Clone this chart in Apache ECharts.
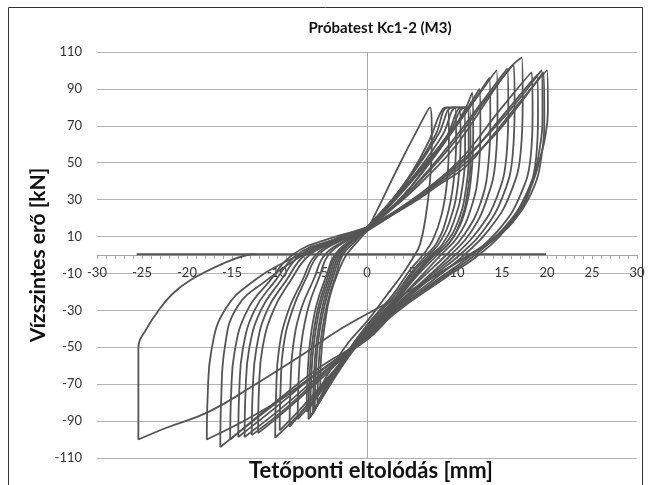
<!DOCTYPE html>
<html>
<head>
<meta charset="utf-8">
<script src="https://cdn.jsdelivr.net/npm/echarts@6/dist/echarts.min.js"></script>
<style>html,body{margin:0;padding:0;background:#fff}#c{width:650px;height:485px}</style>
</head>
<body>
<div id="c"></div>
<script>
const titleText = 'Próbatest Kc1-2 (M3)';
const xTitle = 'Tetőponti eltolódás [mm]';
const yTitle = 'Vízszintes erő [kN]';
const xTicks = [-30, -25, -20, -15, -10, -5, 0, 5, 10, 15, 20, 25, 30];
const yTicks = [-110, -90, -70, -50, -30, -10, 10, 30, 50, 70, 90, 110];

const loopA = [[0,13],[1.5,28],[3.4,47],[5.4,66],[7.0,80],[7.2,62],[7.0,40],[6.5,20],[5.9,6],[5.3,0],[4,-10],[2,-23],[0,-36],[-2,-47],[-3.8,-60],[-5.2,-72],[-5.1,-55],[-4.7,-38],[-4.1,-22],[-3.1,-8],[-2.3,0],[-1.1,7],[0,13]];
const loopB = [[0,14],[2.5,28],[5,45],[7,63],[8.4,79],[9.0,80],[9.1,62],[8.9,40],[8.3,22],[7.3,8],[6.2,0],[4.8,-8],[2.8,-22],[0,-38],[-2.4,-54],[-4.3,-69],[-5.5,-80],[-5.4,-62],[-5.1,-45],[-4.4,-26],[-3.4,-10],[-2.7,0],[-1.4,7],[0,14]];
const loopB2 = [[0,15],[2.8,30],[5.4,47],[7.6,65],[9.0,80],[9.8,80],[9.9,61],[9.6,39],[8.9,21],[7.8,7],[6.6,0],[5,-9],[2.9,-23],[0,-39],[-2.7,-57],[-4.7,-73],[-5.8,-84],[-5.7,-64],[-5.4,-46],[-4.7,-27],[-3.7,-11],[-2.9,0],[-1.5,8],[0,15]];
const loopC = [[0,14],[3,31],[5.8,49],[8,66],[9.5,80],[10.3,80],[10.4,60],[10.1,38],[9.3,20],[8.1,7],[6.9,0],[5.2,-9],[3,-24],[0,-40],[-2.9,-59],[-4.9,-75],[-6.0,-86],[-5.9,-66],[-5.6,-47],[-4.9,-27],[-3.9,-11],[-3.1,0],[-1.6,8],[0,14]];
const loopC2 = [[0,15],[3,30],[6,48],[8.4,65],[10.0,80],[10.8,80],[10.9,59],[10.6,37],[9.7,19],[8.4,6],[7.1,0],[5.3,-10],[3,-25],[0,-41],[-3,-61],[-5.1,-78],[-6.3,-88],[-6.2,-67],[-5.9,-48],[-5.2,-28],[-4.1,-11],[-3.3,0],[-1.7,7],[0,15]];
const loopD = [[0,13],[3,29],[6,46],[8.8,64],[10.6,80],[11.2,80],[11.3,58],[11,36],[10.1,18],[8.7,6],[7.3,0],[5.5,-10],[3,-26],[0,-42],[-3,-62],[-5.3,-80],[-6.5,-89],[-6.4,-68],[-6.1,-48],[-5.4,-28],[-4.3,-11],[-3.5,0],[-1.8,7],[0,13]];
const loopE = [[0,14],[3,30],[6,47],[9,65],[11.0,80],[11.4,80],[11.5,57],[11.2,35],[10.3,17],[8.9,5],[7.5,0],[5.6,-10],[3,-26],[0,-41],[-3,-60],[-5.4,-76],[-6.7,-85],[-6.6,-65],[-6.3,-46],[-5.6,-27],[-4.5,-11],[-3.6,0],[-1.9,8],[0,14]];
const loopF = [[0,14],[3,30],[6,46],[9,64],[10.8,78],[11.7,88],[11.8,66],[11.6,44],[10.9,24],[9.5,9],[7.8,0],[5.8,-10],[3,-26],[0,-42],[-3.4,-62],[-6.1,-80],[-7.7,-89],[-7.6,-68],[-7.3,-48],[-6.5,-28],[-5.3,-12],[-4.3,0],[-2.2,8],[0,14]];
const loopG = [[0,15],[3,31],[6,47],[9,64],[11.1,79],[12.5,90],[12.6,68],[12.4,46],[11.6,26],[10.1,10],[8.2,0],[6.1,-11],[3,-27],[0,-42],[-3.9,-64],[-6.9,-83],[-8.6,-93],[-8.5,-70],[-8.2,-49],[-7.3,-29],[-5.9,-13],[-4.7,0],[-2.4,8],[0,15]];
const loopH = [[0,14],[4,32],[7,51],[9.5,68],[11.8,83],[13.6,96],[13.7,72],[13.5,50],[12.6,28],[10.8,11],[8.8,0],[6.4,-11],[3,-27],[0,-43],[-3.9,-64],[-7.3,-83],[-9.7,-95],[-9.6,-72],[-9.3,-50],[-8.3,-30],[-6.8,-13],[-5.4,0],[-2.8,8],[0,14]];
const loopI = [[0,13],[4,32],[7,50],[9.5,67],[12,84],[14.4,100],[14.5,76],[14.3,52],[13.3,30],[11.5,12],[9.3,0],[6.7,-12],[3,-28],[0,-43],[-4,-66],[-7.5,-86],[-10.2,-99],[-10.1,-75],[-9.8,-52],[-8.8,-31],[-7.2,-14],[-5.7,0],[-2.9,8],[0,13]];
const loopJ = [[0,14],[4,31],[7,47],[10,65],[12.8,83],[15.6,101],[15.7,78],[15.5,54],[14.4,31],[12.3,13],[9.8,0],[6.9,-12],[3,-29],[0,-43],[-4,-62],[-8.5,-82],[-12.1,-96.5],[-12.0,-72],[-11.6,-50],[-10.4,-30],[-8.5,-14],[-6.4,0],[-3.2,8],[0,14]];
const loopK = [[0,15],[4,31],[7,46],[10,63],[13,83],[16.3,103],[16.4,80],[16.2,55],[15.1,32],[12.9,13],[10.3,0],[7.2,-12],[3,-30],[0,-44],[-4.5,-63],[-9,-83],[-12.8,-97.6],[-12.7,-74],[-12.3,-51],[-11.1,-30],[-9,-14],[-6.9,0],[-3.4,9],[0,15]];
const loopL = [[0,14],[4,30],[7,44],[10,60],[13.5,85],[15.8,101],[17.2,107],[17.3,82],[17.1,57],[15.9,33],[13.6,14],[10.8,0],[7.5,-13],[3,-30],[0,-44],[-5,-64],[-9.5,-83],[-13.6,-98.6],[-13.5,-75],[-13.1,-51],[-11.8,-30],[-9.6,-14],[-7.4,0],[-3.7,8],[0,14]];
const loopM = [[0,13],[5,29],[8,41],[11,55],[14.5,77],[18.3,99],[18.4,76],[18.2,54],[17.0,32],[14.7,14],[11.6,0],[7.9,-13],[3,-31],[0,-45],[-5,-62],[-10,-82],[-14.3,-98.6],[-14.2,-75],[-13.8,-51],[-12.5,-30],[-10.2,-14],[-7.8,0],[-3.9,8],[0,13]];
const loopN = [[0,14],[5,29],[8,40],[11,52],[15,75],[18.9,97.5],[19.0,75],[18.8,53],[17.6,32],[15.1,14],[12.0,0],[8.2,-13],[3,-31],[0,-45],[-5,-60],[-10,-79],[-15.2,-100],[-15.1,-76],[-14.7,-52],[-13.3,-30],[-10.8,-14],[-8.3,0],[-4.1,9],[0,14]];
const loopO = [[0,15],[5,29],[8,39],[11,50],[14,64],[17,82],[19.6,99],[19.7,76],[19.4,54],[18.2,33],[15.6,15],[12.4,0],[8.5,-13],[3,-32],[0,-46],[-5,-62],[-10,-80],[-16.3,-104],[-16.2,-78],[-15.8,-50],[-14.4,-28],[-11.1,-13.5],[-7.8,-2],[-6.4,1],[-2.9,9],[0,15]];
const loopP = [[0,14],[5,28],[8,38],[11,48],[14,65],[17,83],[20.0,100],[20.1,78],[19.8,64],[19.2,52],[18.4,39],[16.7,21],[14.0,8],[11.8,1],[9.2,-6.5],[5.9,-17],[3,-29],[0,-43],[-4.9,-62],[-10.8,-82],[-17.8,-100],[-17.7,-76],[-17.3,-52],[-15.7,-29],[-12.3,-13],[-8.8,-3],[-6.9,1],[-3.1,9],[0,14]];
const loopQ = [[0,14],[5,30],[8,41],[11,53],[14,68],[17,85],[19.4,100],[19.5,78],[19.2,58],[18.2,38],[16.3,20],[13.5,7],[11.3,0],[8.3,-9],[4.9,-19],[1.5,-28],[-2.9,-40],[-7.8,-56],[-12.7,-71],[-17.6,-85],[-22.5,-94],[-25.4,-100],[-25.4,-75],[-25.4,-50],[-24.5,-40],[-23.3,-31],[-21.6,-21],[-19.6,-13.5],[-15.7,-4],[-13.3,0],[-12.3,0.5]];
const baseLine = [[-25.6,0.4],[19.9,0.4]];

const loops = [loopA, loopB, loopB2, loopC, loopC2, loopD, loopE, loopF, loopG, loopH, loopI, loopJ, loopK, loopL, loopM, loopN, loopO, loopP, loopQ];

const chart = echarts.init(document.getElementById('c'), null, {renderer: 'canvas'});
const lineColor = '#555555';
const series = loops.map(d => ({
  type: 'line', data: d, symbol: 'none', smooth: 0.45, silent: true,
  lineStyle: {color: lineColor, width: 1.8}, z: 3
}));
series.push({
  type: 'line', data: baseLine, symbol: 'none', silent: true,
  lineStyle: {color: lineColor, width: 2}, z: 3,
  markLine: {
    silent: true, symbol: 'none', label: {show: false},
    lineStyle: {color: '#a6a6a6', type: 'solid', width: 1},
    data: [{xAxis: 0}], z: 1
  }
});

chart.setOption({
  animation: false,
  grid: {left: 97, right: 13, top: 52, bottom: 27, containLabel: false},
  xAxis: {
    type: 'value', min: xTicks[0], max: xTicks[xTicks.length - 1], interval: 5,
    position: 'bottom', offset: -203,
    axisLine: {show: true, onZero: false, lineStyle: {color: '#a6a6a6', width: 1}},
    axisTick: {show: true, length: 4, lineStyle: {color: '#a6a6a6'}},
    minorTick: {show: true, splitNumber: 5, length: 4, lineStyle: {color: '#a6a6a6'}},
    splitLine: {show: false},
    axisLabel: {color: '#333', fontFamily: 'Lato', fontSize: 13, margin: 11}
  },
  yAxis: {
    type: 'value', min: yTicks[0], max: yTicks[yTicks.length - 1], interval: 20,
    axisLine: {show: false}, axisTick: {show: false},
    splitLine: {show: true, lineStyle: {color: '#b4b4b4', width: 1}},
    axisLabel: {color: '#333', fontFamily: 'Lato', fontSize: 13, margin: 15}
  },
  graphic: [
    {type: 'rect', shape: {x: 8.5, y: 7.5, width: 634, height: 490}, style: {fill: 'none', stroke: '#333', lineWidth: 1}, silent: true},
    {type: 'text', x: 380, y: 28, style: {text: titleText, font: 'bold 15px Lato', fill: '#111', textAlign: 'center', textVerticalAlign: 'middle'}},
    {type: 'text', x: 371, y: 471, style: {text: xTitle, font: 'bold 22px Lato', fill: '#111', textAlign: 'center', textVerticalAlign: 'middle'}},
    {type: 'text', x: 38, y: 255, rotation: Math.PI / 2, style: {text: yTitle, font: 'bold 21px Lato', fill: '#111', textAlign: 'center', textVerticalAlign: 'middle'}}
  ],
  series: series
});
</script>
</body>
</html>
